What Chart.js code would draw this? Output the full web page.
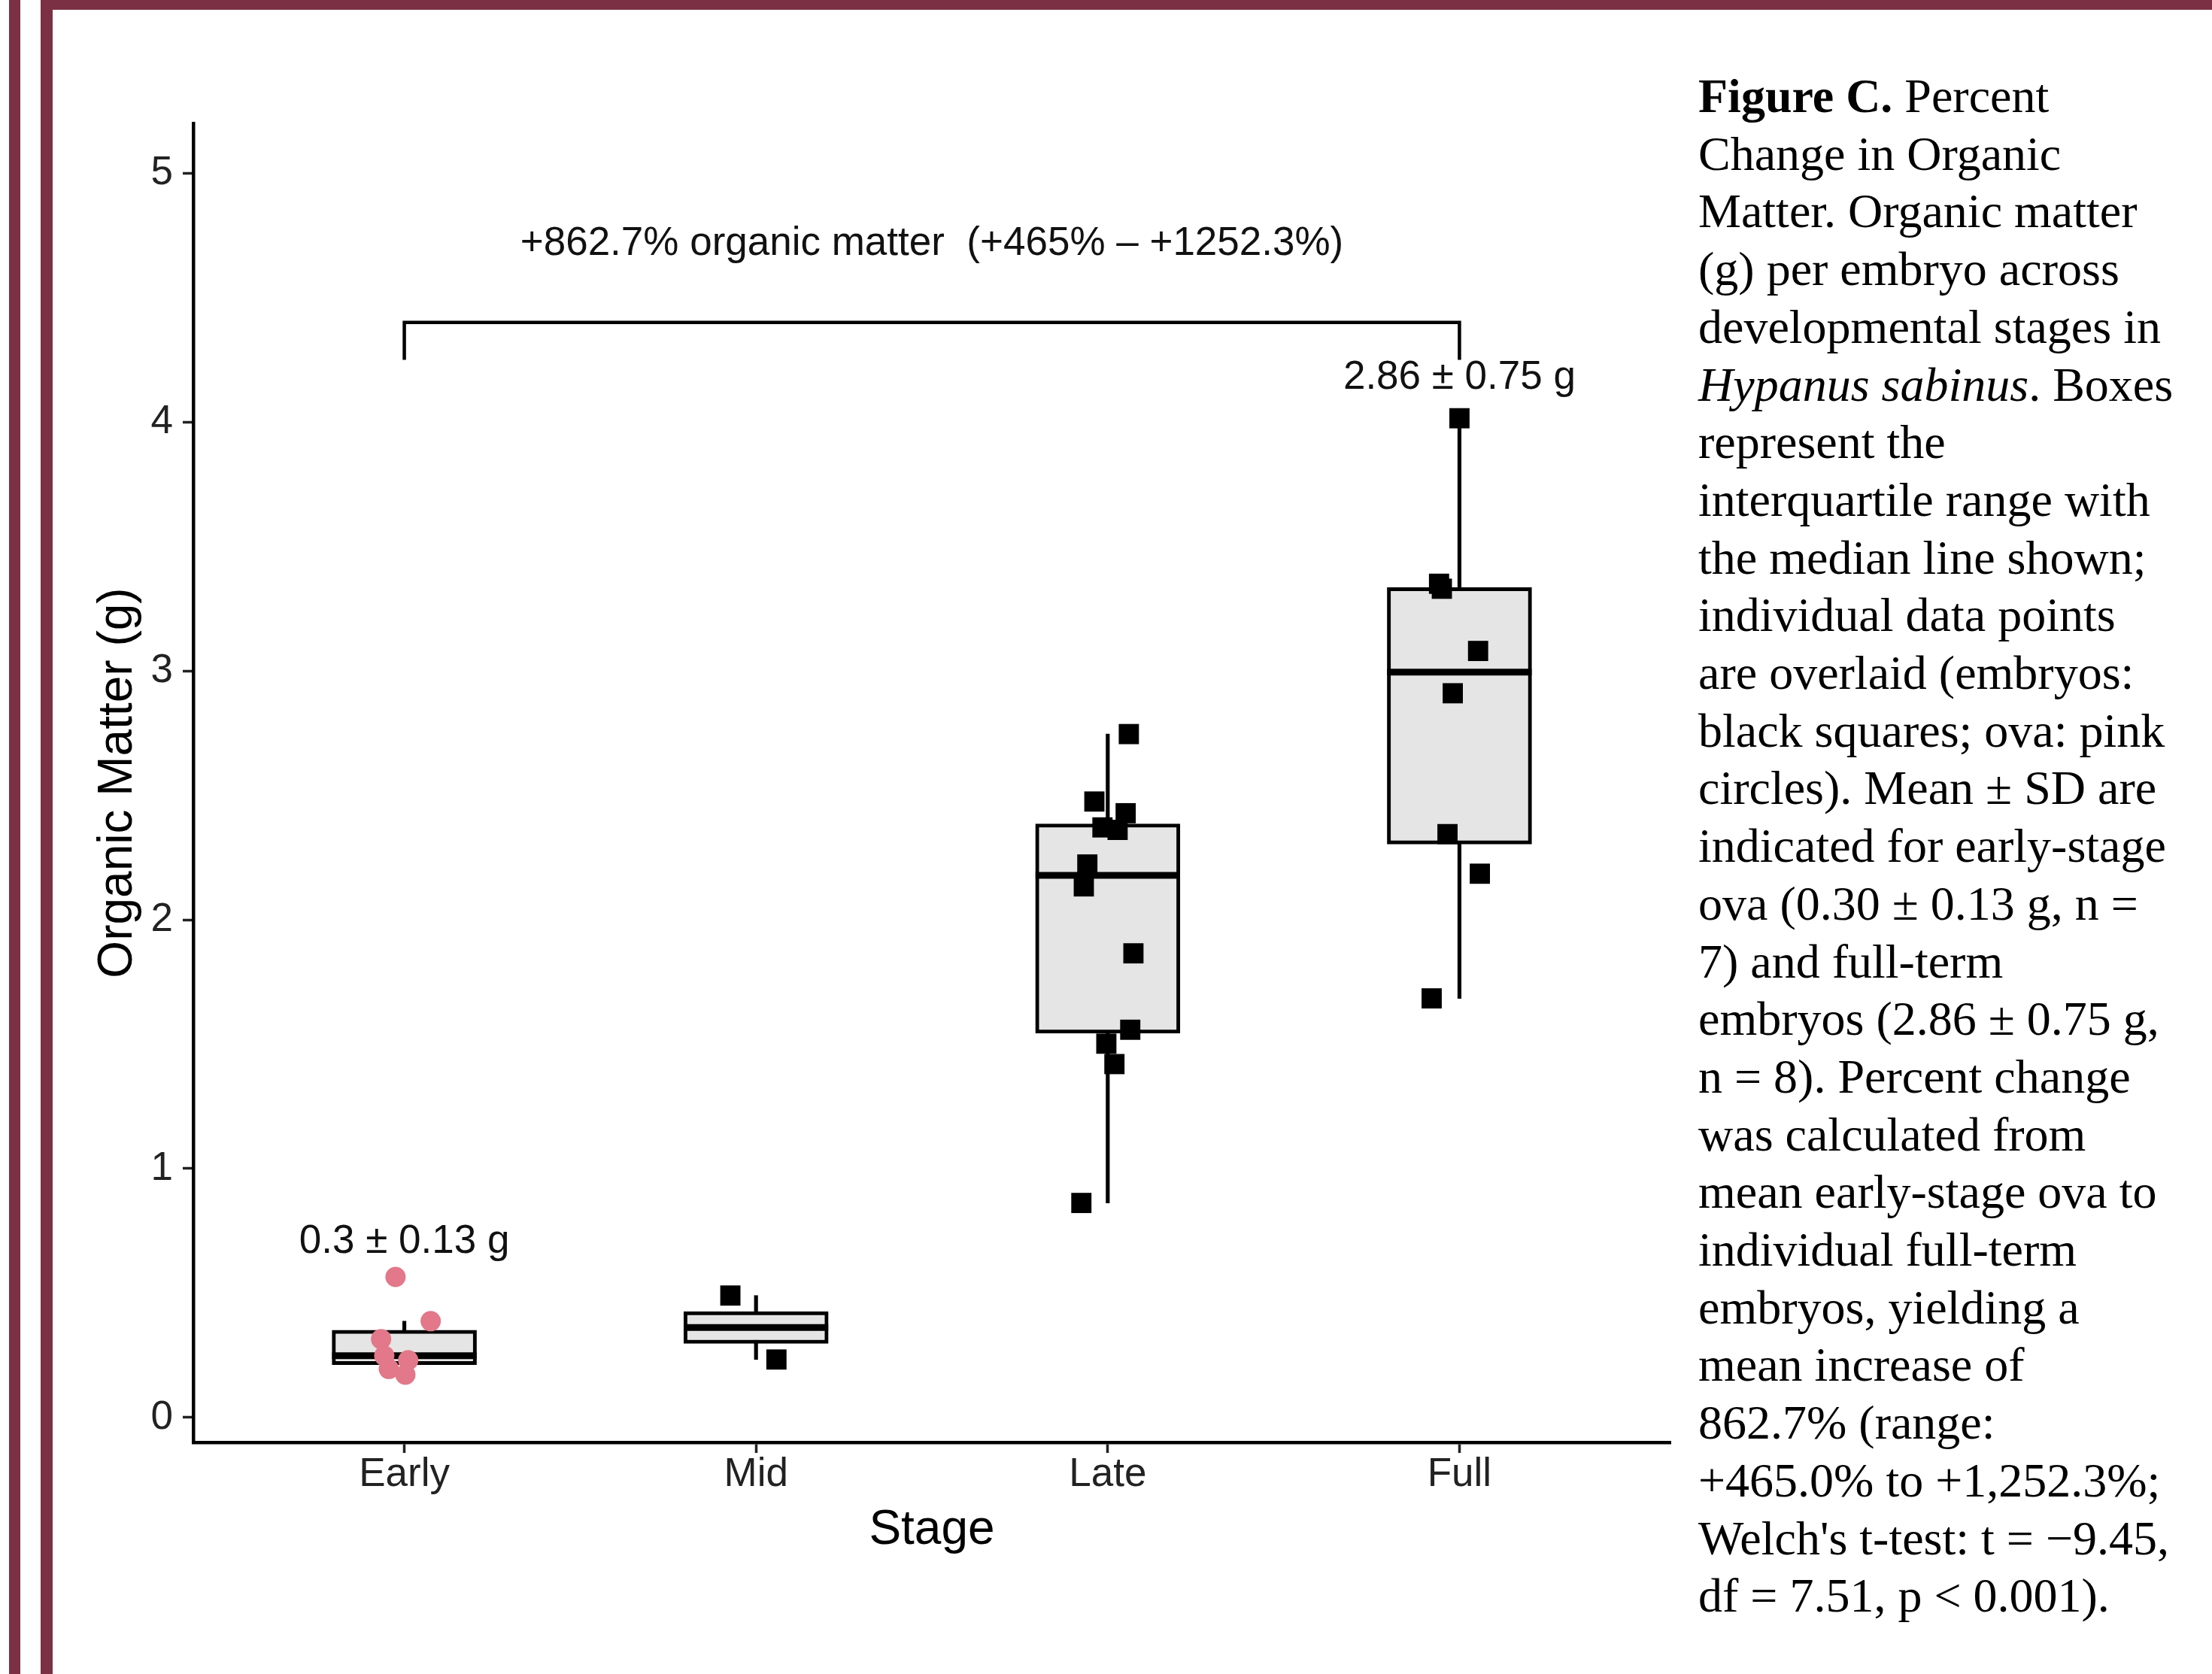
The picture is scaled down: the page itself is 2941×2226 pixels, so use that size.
<!DOCTYPE html>
<html>
<head>
<meta charset="utf-8">
<title>Figure C - Organic Matter</title>
<script src="https://cdn.jsdelivr.net/npm/chart.js@4.4.1/dist/chart.umd.min.js"></script>
<style>
  html, body { margin: 0; padding: 0; background: #fff; }
  body { position: relative; width: 2941px; height: 2226px; overflow: hidden; }
  .frame { position: absolute; background: #7b3043; }
  #wrap { position: absolute; left: 0; top: 0; width: 2240px; height: 2226px; }
  #caption {
    position: absolute; left: 2258px; top: 90px;
    font-family: "Liberation Serif", "Times New Roman", serif;
    font-size: 64px; line-height: 76.7px; color: #000;
  }
  #caption div { white-space: nowrap; }
</style>
</head>
<body>
<div id="wrap"><canvas id="omChart"></canvas></div>

<div class="frame" style="left:12px;top:0;width:15px;height:2226px"></div>
<div class="frame" style="left:54px;top:0;width:16px;height:2226px"></div>
<div class="frame" style="left:54px;top:0;width:2887px;height:13px"></div>

<div id="caption">
  <div><b>Figure C.</b> Percent</div>
  <div>Change in Organic</div>
  <div>Matter. Organic matter</div>
  <div>(g) per embryo across</div>
  <div>developmental stages in</div>
  <div><i>Hypanus sabinus</i>. Boxes</div>
  <div>represent the</div>
  <div>interquartile range with</div>
  <div>the median line shown;</div>
  <div>individual data points</div>
  <div>are overlaid (embryos:</div>
  <div>black squares; ova: pink</div>
  <div>circles). Mean ± SD are</div>
  <div>indicated for early-stage</div>
  <div>ova (0.30 ± 0.13 g, n =</div>
  <div>7) and full-term</div>
  <div>embryos (2.86 ± 0.75 g,</div>
  <div>n = 8). Percent change</div>
  <div>was calculated from</div>
  <div>mean early-stage ova to</div>
  <div>individual full-term</div>
  <div>embryos, yielding a</div>
  <div>mean increase of</div>
  <div>862.7% (range:</div>
  <div>+465.0% to +1,252.3%;</div>
  <div>Welch's t-test: t = −9.45,</div>
  <div>df = 7.51, p &lt; 0.001).</div>
</div>

<script>
const STAGES = ["Early", "Mid", "Late", "Full"];
const Y_TICKS = [0, 1, 2, 3, 4, 5];

// organic matter (g) per specimen
const EARLY_OM = [0.565, 0.387, 0.315, 0.248, 0.195, 0.23, 0.172]; // ova
const MID_OM = [0.49, 0.233];
const LATE_OM = [2.746, 2.475, 2.428, 2.371, 2.361, 2.222, 2.134, 1.865, 1.558, 1.502, 1.42, 0.862];
const FULL_OM = [4.015, 3.35, 3.33, 3.08, 2.91, 2.344, 2.185, 1.684];

// horizontal jitter of each point, in stage units
const EARLY_JIT = [-0.025, 0.075, -0.066, -0.057, -0.044, 0.011, 0.003];
const MID_JIT = [-0.073, 0.058];
const LATE_JIT = [0.06, -0.038, 0.051, -0.015, 0.028, -0.058, -0.068, 0.073, 0.064, -0.004, 0.019, -0.075];
const FULL_JIT = [0, -0.058, -0.05, 0.053, -0.019, -0.034, 0.058, -0.079];

// annotations
const MEAN_LABELS = ["0.3 ± 0.13 g", "", "", "2.86 ± 0.75 g"];
const MEAN_LABEL_Y = [0.707, null, null, 4.178];
const CHANGE_LABEL = "+862.7% organic matter  (+465% – +1252.3%)";
const CHANGE_LABEL_Y = 4.716;
const BRACKET_Y = 4.4;
const BRACKET_DROP = 0.15;

const groups = [EARLY_OM, MID_OM, LATE_OM, FULL_OM];
const jitters = [EARLY_JIT, MID_JIT, LATE_JIT, FULL_JIT];

function quantile(sorted, p) {
  const pos = (sorted.length - 1) * p;
  const lo = Math.floor(pos);
  const hi = Math.min(lo + 1, sorted.length - 1);
  return sorted[lo] + (sorted[hi] - sorted[lo]) * (pos - lo);
}

// ggplot style box stats: quartiles and 1.5 IQR whiskers
function boxStats(vals) {
  const s = [...vals].sort((a, b) => a - b);
  const q1 = quantile(s, 0.25), med = quantile(s, 0.5), q3 = quantile(s, 0.75);
  const iqr = q3 - q1;
  const inside = s.filter(v => v >= q1 - 1.5 * iqr && v <= q3 + 1.5 * iqr);
  return { q1, med, q3, lo: inside[0], hi: inside[inside.length - 1] };
}

const stats = groups.map(boxStats);
const toPoints = (i) => groups[i].map((v, k) => ({ x: i + jitters[i][k], y: v }));

const INK = "#000";
const TEXT = "#222";
const FONT = '"Liberation Sans", Arial, Helvetica, sans-serif';
Chart.defaults.font.family = FONT;

// median lines drawn on top of the boxes, plus the text annotations
const boxExtras = {
  id: "boxExtras",
  afterDatasetDraw(chart, args) {
    if (chart.data.datasets[args.index].id !== "boxes") return;
    const { ctx, scales: { y } } = chart;
    ctx.save();
    ctx.strokeStyle = INK;
    ctx.lineWidth = 9;
    args.meta.data.forEach((bar, i) => {
      const py = y.getPixelForValue(stats[i].med);
      ctx.beginPath();
      ctx.moveTo(bar.x - bar.width / 2, py);
      ctx.lineTo(bar.x + bar.width / 2, py);
      ctx.stroke();
    });
    ctx.restore();
  },
  afterDatasetsDraw(chart) {
    const { ctx, scales: { x, y } } = chart;
    ctx.save();
    ctx.fillStyle = "#111";
    ctx.font = "53px " + FONT;
    ctx.textAlign = "center";
    ctx.textBaseline = "middle";
    MEAN_LABELS.forEach((txt, i) => {
      if (!txt) return;
      ctx.fillText(txt, x.getPixelForValue(i), y.getPixelForValue(MEAN_LABEL_Y[i]));
    });
    ctx.fillText(CHANGE_LABEL, x.getPixelForValue(1.5), y.getPixelForValue(CHANGE_LABEL_Y));
    ctx.restore();
  }
};

const ctx = document.getElementById("omChart").getContext("2d");

new Chart(ctx, {
  type: "scatter",
  data: {
    datasets: [
      {
        label: "ova",
        data: toPoints(0),
        pointStyle: "circle",
        pointRadius: 13.5,
        pointBackgroundColor: "#e27889",
        pointBorderWidth: 0,
        order: 1,
      },
      {
        label: "embryos",
        data: [...toPoints(1), ...toPoints(2), ...toPoints(3)],
        pointStyle: "rect",
        pointRadius: 19,
        pointBackgroundColor: INK,
        pointBorderWidth: 0,
        order: 1,
      },
      {
        label: "bracket",
        data: [
          { x: 0, y: BRACKET_Y - BRACKET_DROP },
          { x: 0, y: BRACKET_Y },
          { x: STAGES.length - 1, y: BRACKET_Y },
          { x: STAGES.length - 1, y: BRACKET_Y - BRACKET_DROP },
        ],
        showLine: true,
        borderColor: INK,
        borderWidth: 4.5,
        pointRadius: 0,
        order: 2,
      },
      {
        id: "boxes",
        type: "bar",
        label: "IQR",
        data: stats.map((s, i) => ({ x: i, y: [s.q1, s.q3] })),
        backgroundColor: "#e5e5e5",
        borderColor: INK,
        borderWidth: 5,
        borderSkipped: false,
        barThickness: 192,
        grouped: false,
        order: 3,
      },
      {
        type: "bar",
        label: "whiskers",
        data: stats.map((s, i) => ({ x: i, y: [s.lo, s.hi] })),
        backgroundColor: INK,
        borderWidth: 0,
        barThickness: 4.5,
        grouped: false,
        order: 4,
      },
    ],
  },
  options: {
    responsive: true,
    maintainAspectRatio: false,
    animation: false,
    events: [],
    layout: { padding: { top: 164, right: 18, bottom: 0, left: 0 } },
    plugins: { legend: { display: false }, tooltip: { enabled: false } },
    scales: {
      x: {
        type: "linear",
        min: -0.6,
        max: 3.6,
        offset: false,
        afterBuildTicks: (s) => { s.ticks = STAGES.map((_, i) => ({ value: i })); },
        afterFit: (s) => { s.height = 308; },
        ticks: {
          callback: (v) => STAGES[v],
          color: TEXT,
          padding: 0,
          font: { size: 53, lineHeight: 1.1 },
        },
        grid: { offset: false, drawOnChartArea: false, tickLength: 14, tickWidth: 3.5, tickColor: TEXT },
        border: { display: true, color: INK, width: 4.5 },
        title: {
          display: true,
          text: "Stage",
          color: INK,
          font: { size: 64 },
          padding: { top: 0, bottom: 152 },
        },
      },
      y: {
        min: -0.1,
        max: 5.2,
        afterBuildTicks: (s) => { s.ticks = Y_TICKS.map(v => ({ value: v })); },
        afterFit: (s) => { s.width = 257; },
        ticks: { color: TEXT, padding: 13, font: { size: 53 } },
        grid: { drawOnChartArea: false, tickLength: 14, tickWidth: 3.5, tickColor: TEXT },
        border: { display: true, color: INK, width: 4.5 },
        title: {
          display: true,
          text: "Organic Matter (g)",
          color: INK,
          font: { size: 64 },
          padding: { top: 119, bottom: 0 },
        },
      },
    },
  },
  plugins: [boxExtras],
});
</script>
</body>
</html>
